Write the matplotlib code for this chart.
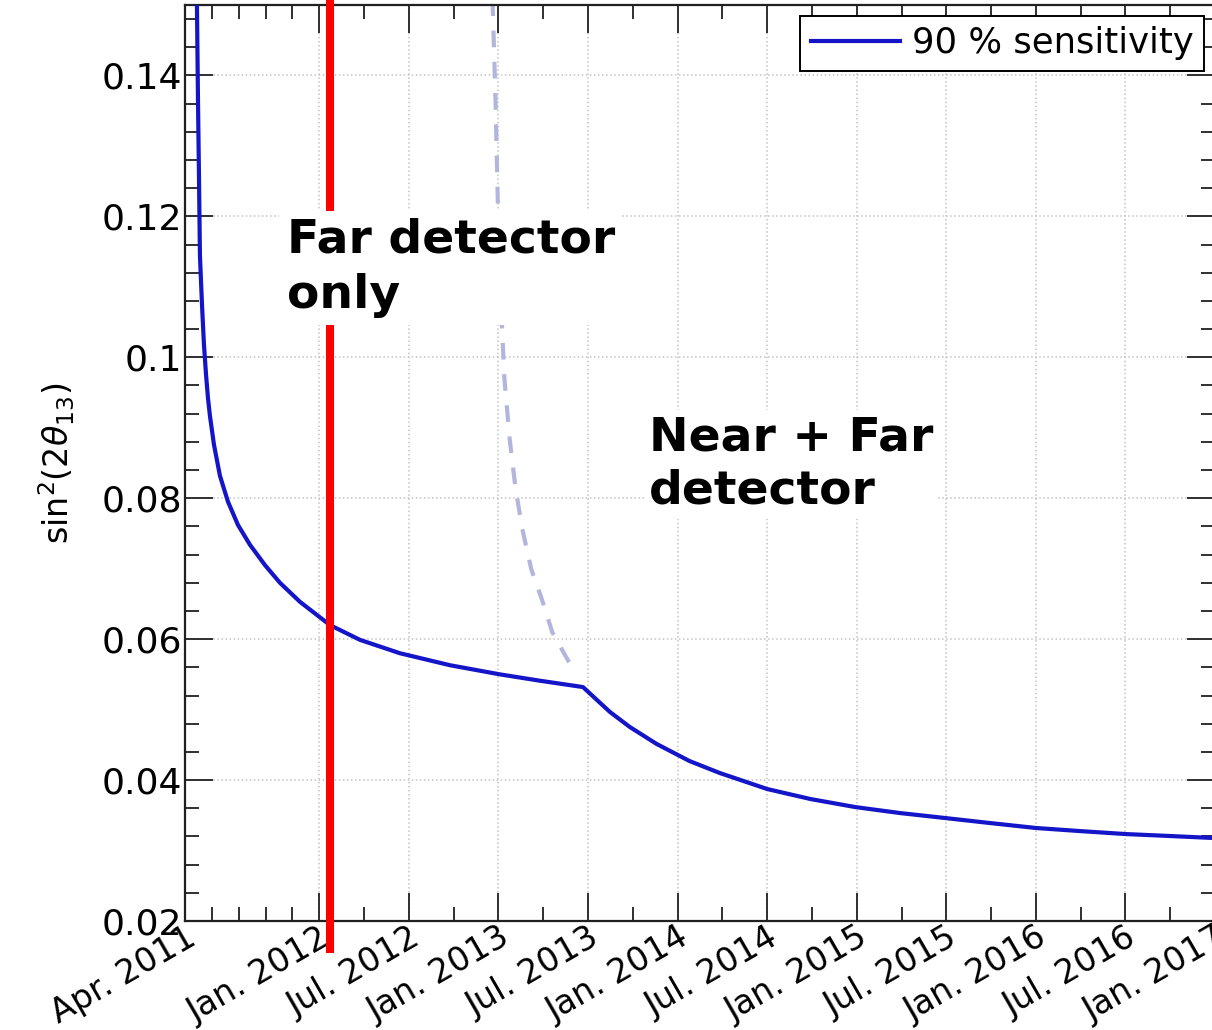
import matplotlib
matplotlib.use("Agg")
import matplotlib.pyplot as plt
import numpy as np

# tiempo en meses desde abril 2011
meses_far = [0.77, 0.80, 0.87, 0.94, 1.00, 1.14, 1.27, 1.41, 1.54, 1.67, 1.94,
             2.34, 2.88, 3.55, 4.35, 5.36, 6.36, 7.70, 9.71, 11.72, 14.40,
             17.75, 21.10, 23.78, 26.66]
sens_far = [0.1535, 0.1500, 0.1365, 0.1251, 0.1145, 0.1074, 0.1018, 0.0975,
            0.0942, 0.0917, 0.0876, 0.0832, 0.0795, 0.0762, 0.0734, 0.0705,
            0.0680, 0.0653, 0.0620, 0.0599, 0.0580, 0.0563, 0.0550, 0.0541,
            0.0532]

meses_nf = [26.66, 27.6, 28.47, 29.8, 31.6, 33.8, 35.83, 39.0, 41.9, 44.9,
            47.9, 50.9, 53.9, 57.0, 59.9, 63.0, 66.0, 68.9, 69.5]
sens_nf = [0.0532, 0.05136, 0.04966, 0.04753, 0.04512, 0.04270, 0.04100,
           0.03873, 0.03731, 0.03617, 0.03532, 0.03462, 0.03391, 0.0332,
           0.03277, 0.03234, 0.03206, 0.03178, 0.03174]

# sensibilidad con el detector cercano solo (punteada)
meses_near = [20.6, 20.8, 20.95, 21.15, 21.4, 21.75, 22.15, 22.6, 23.2, 23.9,
              24.6, 25.6, 26.2]
sens_near = [0.1508, 0.1366, 0.1224, 0.1082, 0.0969, 0.0884, 0.0813, 0.0756,
             0.0699, 0.0657, 0.0610, 0.0572, 0.0550]

mes_corte = 9.7  # arranque del detector cercano

xtick_meses = [0, 9, 15, 21, 27, 33, 39, 45, 51, 57, 63, 69]
xtick_labels = ['Apr. 2011', 'Jan. 2012', 'Jul. 2012', 'Jan. 2013', 'Jul. 2013',
                'Jan. 2014', 'Jul. 2014', 'Jan. 2015', 'Jul. 2015', 'Jan. 2016',
                'Jul. 2016', 'Jan. 2017']
xminor = [1.8, 3.6, 5.4, 7.2, 12, 18, 24, 30, 36, 42, 48, 54, 60, 66]
yticks = [0.02, 0.04, 0.06, 0.08, 0.1, 0.12, 0.14]
ytick_labels = ['0.02', '0.04', '0.06', '0.08', '0.1', '0.12', '0.14']

plt.rcParams['font.family'] = 'DejaVu Sans'

fig = plt.figure(figsize=(12.12, 10.30), dpi=100)
ax = fig.add_axes([185 / 1212, 109 / 1030, 1030 / 1212, 916 / 1030])

ax.plot(meses_near, sens_near, color='#b2b6dc', lw=3, dashes=(4, 3.5), zorder=2)
ax.plot(meses_far + meses_nf[1:], sens_far + sens_nf[1:], color='#1414c8', lw=3,
        label='90 % sensitivity', zorder=3)

ax.plot([mes_corte, mes_corte], [0.016, 0.152], color='red', lw=5.8,
        clip_on=False, zorder=4)

ax.text(6.8, 0.1198, 'Far detector\nonly', fontsize=34, fontweight='bold',
        va='top', ha='left', linespacing=1.3, zorder=5,
        bbox=dict(facecolor='white', edgecolor='none', boxstyle='square,pad=0.15'))
ax.text(31.1, 0.0918, 'Near + Far\ndetector', fontsize=34, fontweight='bold',
        va='top', ha='left', linespacing=1.25, zorder=5,
        bbox=dict(facecolor='white', edgecolor='none', boxstyle='square,pad=0.1'))

ax.set_xlim(0, 69)
ax.set_ylim(0.02, 0.15)
ax.set_xticks(xtick_meses)
ax.set_xticklabels(xtick_labels, rotation=30, ha='right', va='top',
                   rotation_mode='anchor', fontsize=24)
ax.set_xticks(xminor, minor=True)
ax.set_yticks(yticks)
ax.set_yticklabels(ytick_labels, fontsize=26)
ax.set_yticks(np.arange(0.024, 0.15, 0.004), minor=True)
ax.tick_params(which='both', direction='in', top=True, right=True,
               width=1.3, color='#202020')
ax.tick_params(which='major', length=20)
ax.tick_params(which='minor', length=10)
ax.tick_params(axis='x', pad=0)
ax.tick_params(axis='y', pad=2)
for s in ax.spines.values():
    s.set_linewidth(1.6)
    s.set_color('#202020')

ax.grid(True, which='major', ls=':', color='#c4c4c4', lw=1.1)
ax.set_ylabel(r'sin$^2$(2$\theta_{13}$)', fontsize=24, labelpad=18)

leg = ax.legend(loc='upper right', fontsize=25.5, fancybox=False,
                edgecolor='black', framealpha=1, handlelength=2.5,
                handletextpad=0.35, borderpad=0.3, borderaxespad=0.3)
leg.get_frame().set_linewidth(1.4)

fig.savefig('out.png', dpi=100)
